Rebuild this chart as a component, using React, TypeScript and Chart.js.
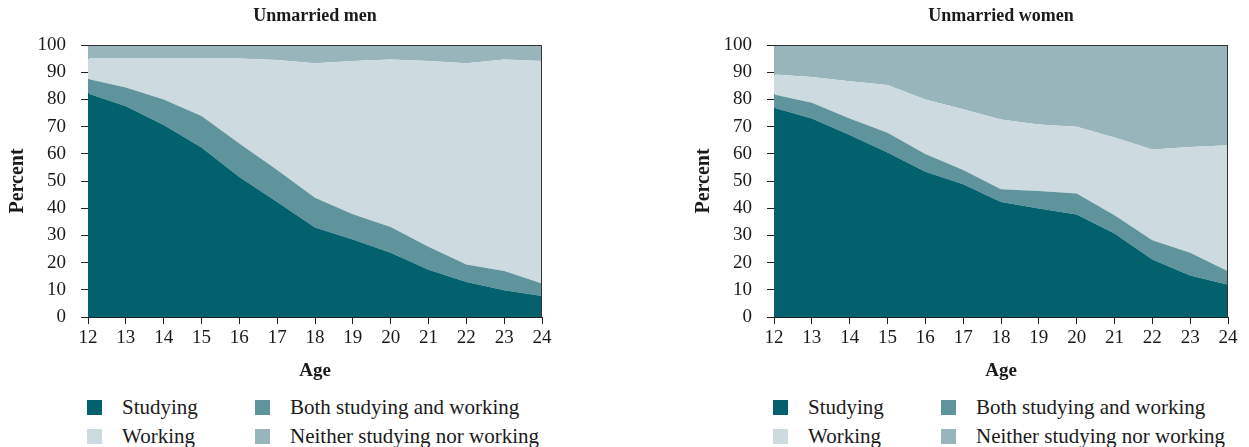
import React, { useEffect, useRef } from "react";
import { Chart, registerables } from "chart.js";
Chart.register(...registerables);

const ages = ["12", "13", "14", "15", "16", "17", "18", "19", "20", "21", "22", "23", "24"];
const seriesNames = ["Studying", "Both studying and working", "Working", "Neither studying nor working"];
const seriesColors = ["#03616e", "#5f949d", "#cddadf", "#98b5bc"];

const menStudying = [82.2, 77.5, 70.6, 62.3, 51.5, 42.3, 32.9, 28.5, 23.6, 17.4, 12.9, 9.8, 7.7];
const menBoth = [5.3, 6.9, 9.4, 11.6, 12.3, 11.7, 10.9, 9.3, 9.5, 8.4, 6.4, 7.1, 4.6];
const menWorking = [7.5, 10.6, 15.0, 21.1, 31.2, 40.5, 49.5, 56.3, 61.6, 68.3, 74.0, 77.8, 81.8];
const menNeither = [5.0, 5.0, 5.0, 5.0, 5.0, 5.5, 6.7, 5.9, 5.3, 5.9, 6.7, 5.3, 5.9];

const womenStudying = [76.9, 73.0, 66.9, 60.5, 53.4, 48.8, 42.3, 39.9, 37.7, 30.7, 21.1, 15.3, 11.9];
const womenBoth = [4.9, 5.8, 6.1, 7.2, 6.5, 5.2, 4.7, 6.4, 7.7, 6.7, 7.1, 8.3, 4.9];
const womenWorking = [7.4, 9.4, 13.7, 17.6, 20.1, 22.4, 25.6, 24.5, 24.5, 28.6, 33.4, 38.9, 46.3];
const womenNeither = [10.8, 11.8, 13.3, 14.7, 20.0, 23.6, 27.4, 29.2, 30.1, 34.0, 38.4, 37.5, 36.9];

const yMin = 0;
const yMax = 100;
const yStep = 10;

const FONT = "'Liberation Serif', 'Times New Roman', serif";
const TEXT = "#1a1a1a";

const framePlugin = {
  id: "frame",
  afterDatasetsDraw(chart: any) {
    const { ctx, chartArea } = chart;
    const { left, top, right, bottom } = chartArea;
    ctx.save();
    ctx.strokeStyle = "#333333";
    ctx.lineWidth = 1;
    ctx.beginPath();
    const t = Math.round(top) + 0.5;
    const r = Math.round(right) - 0.5;
    ctx.moveTo(left, t);
    ctx.lineTo(r, t);
    ctx.lineTo(r, bottom);
    ctx.stroke();
    ctx.restore();
  },
};

function Panel({ title, series, left }: { title: string; series: number[][]; left: number }) {
  const ref = useRef<HTMLCanvasElement>(null);
  useEffect(() => {
    if (!ref.current) return;
    const chart = new Chart(ref.current, {
      type: "line",
      data: {
        labels: ages,
        datasets: series.map((values, i) => ({
          label: seriesNames[i],
          data: values,
          backgroundColor: seriesColors[i],
          borderColor: seriesColors[i],
          borderWidth: 0,
          pointRadius: 0,
          tension: 0,
          fill: i === 0 ? "origin" : "-1",
        })),
      },
      options: {
        animation: false,
        responsive: false,
        maintainAspectRatio: false,
        layout: { padding: { left: 0, right: 18, top: 0, bottom: 0 } },
        plugins: {
          legend: { display: false },
          tooltip: { enabled: false },
          title: {
            display: true,
            text: title,
            fullSize: false,
            color: TEXT,
            font: { family: FONT, size: 18, weight: "bold" },
            padding: { top: 6, bottom: 17.4 },
          },
        },
        scales: {
          x: {
            type: "category",
            offset: false,
            grid: {
              display: true,
              drawOnChartArea: false,
              drawTicks: true,
              tickLength: 7,
              color: "#222",
            },
            border: { display: true, color: "#222", width: 1 },
            ticks: {
              color: TEXT,
              padding: 3,
              maxRotation: 0,
              autoSkip: false,
              font: { family: FONT, size: 19 },
            },
            title: {
              display: true,
              text: "Age",
              color: TEXT,
              font: { family: FONT, size: 19, weight: "bold" },
              padding: { top: 0, bottom: 4 },
            },
            afterFit(scale: any) {
              scale.height = 69;
            },
          },
          y: {
            stacked: true,
            min: yMin,
            max: yMax,
            grid: {
              display: true,
              drawOnChartArea: false,
              drawTicks: true,
              tickLength: 7,
              color: "#222",
            },
            border: { display: true, color: "#222", width: 1 },
            ticks: {
              stepSize: yStep,
              color: TEXT,
              padding: 15,
              font: { family: FONT, size: 19 },
            },
            title: {
              display: true,
              text: "Percent",
              color: TEXT,
              font: { family: FONT, size: 20, weight: "bold" },
              padding: { top: 6, bottom: 0 },
            },
            afterFit(scale: any) {
              scale.width = 88;
            },
          },
        },
      },
      plugins: [framePlugin],
    } as any);
    return () => chart.destroy();
  }, []);

  const legendItem = (i: number, x: number, y: number) => (
    <div key={i} style={{ position: "absolute", left: x, top: y, height: 24, whiteSpace: "nowrap" }}>
      <div
        style={{
          position: "absolute",
          left: 0,
          top: 5,
          width: 15,
          height: 15,
          background: seriesColors[i],
        }}
      />
      <div
        style={{
          position: "absolute",
          left: 35,
          top: 0,
          fontFamily: FONT,
          fontSize: 21,
          lineHeight: "24px",
          color: TEXT,
        }}
      >
        {seriesNames[i]}
      </div>
    </div>
  );

  return (
    <div style={{ position: "absolute", left, top: 0, width: 560, height: 447 }}>
      <canvas ref={ref} width={560} height={386} style={{ position: "absolute", left: 0, top: 0, width: 560, height: 386 }} />
      {legendItem(0, 87, 395)}
      {legendItem(1, 255, 395)}
      {legendItem(2, 87, 424)}
      {legendItem(3, 255, 424)}
    </div>
  );
}

export default function App() {
  return (
    <div style={{ position: "absolute", left: 0, top: 0, width: 1249, height: 447, overflow: "hidden", background: "#fff" }}>
      <Panel title="Unmarried men" series={[menStudying, menBoth, menWorking, menNeither]} left={0} />
      <Panel title="Unmarried women" series={[womenStudying, womenBoth, womenWorking, womenNeither]} left={686} />
    </div>
  );
}
